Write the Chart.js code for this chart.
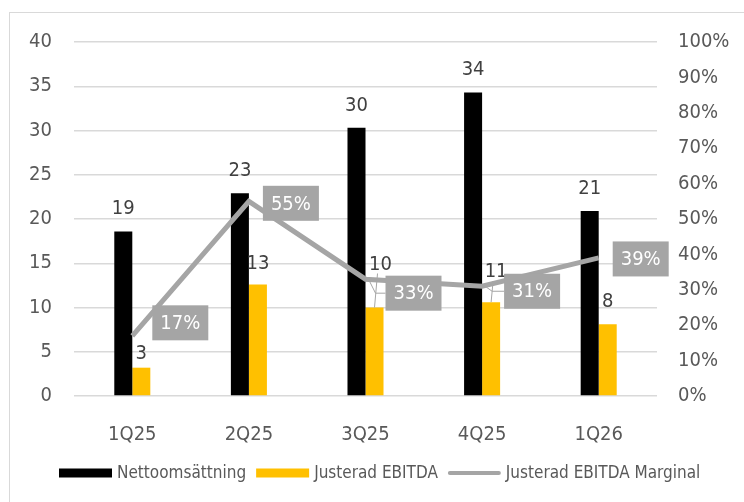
<!DOCTYPE html>
<html>
<head>
<meta charset="utf-8">
<script src="https://cdn.jsdelivr.net/npm/chart.js@4.4.0/dist/chart.umd.min.js"></script>
<style>
  html, body { margin: 0; padding: 0; background: #fff; }
  #wrap { position: relative; width: 744px; height: 502px; }
  #frame { position: absolute; left: 9px; top: 12px; width: 760px; height: 520px; border: 1px solid #d9d9d9; box-sizing: border-box; }
  canvas { position: absolute; left: 0; top: 0; }
</style>
</head>
<body>
<div id="wrap">
  <div id="frame"></div>
  <canvas id="chart" width="744" height="502"></canvas>
</div>
<script>
// Quarterly figures (MSEK) and margin
const QUARTERS = ['1Q25', '2Q25', '3Q25', '4Q25', '1Q26'];
const NET_SALES = [18.6, 22.9, 30.3, 34.3, 20.9];
const ADJ_EBITDA = [3.2, 12.6, 10.0, 10.6, 8.1];
const ADJ_MARGIN = [17, 55, 33, 31, 39];
const LEFT_TICKS = [0, 5, 10, 15, 20, 25, 30, 35, 40];
const RIGHT_TICKS = [0, 10, 20, 30, 40, 50, 60, 70, 80, 90, 100];

const FONT = '"DejaVu Sans Condensed", "DejaVu Sans", sans-serif';
const TXT = '#595959';
const GREY = '#a5a5a5';

// label placement tweaks (px), like the hand-moved labels in the original
const salesGap = [17, 17, 17, 17, 17];
const ebitdaGap = [9, 15, 38, 25, 17];
const ebitdaDx = [0, 0, 6, 5, 0];
const marginDx = [20, 14, 20, 22, 14];
const marginDy = [-13, 2, 14, 5, 1];

const labelsPlugin = {
  id: 'valueLabels',
  afterDatasetsDraw(chart) {
    const ctx = chart.ctx;
    ctx.save();
    ctx.font = '20px ' + FONT;
    ctx.textAlign = 'center';
    ctx.textBaseline = 'alphabetic';
    // bar labels
    const m0 = chart.getDatasetMeta(0), m1 = chart.getDatasetMeta(1);
    m0.data.forEach((b, i) => {
      ctx.fillStyle = '#404040';
      ctx.fillText(Math.round(NET_SALES[i]), b.x, b.y - salesGap[i]);
    });
    m1.data.forEach((b, i) => {
      const lx = b.x + ebitdaDx[i], ly = b.y - ebitdaGap[i];
      if (ebitdaGap[i] > 20) {
        ctx.strokeStyle = GREY; ctx.lineWidth = 1;
        ctx.beginPath(); ctx.moveTo(lx - 3, ly + 4); ctx.lineTo(b.x, b.y); ctx.stroke();
      }
      ctx.fillStyle = '#404040';
      ctx.fillText(Math.round(ADJ_EBITDA[i]), lx, ly);
    });
    // margin boxes
    const m2 = chart.getDatasetMeta(2);
    const bw = 56, bh = 35;
    m2.data.forEach((p, i) => {
      const bx = p.x + marginDx[i], cy = p.y + marginDy[i];
      if (marginDy[i] > 4) {
        ctx.strokeStyle = GREY; ctx.lineWidth = 1;
        ctx.beginPath(); ctx.moveTo(bx, cy); ctx.lineTo(p.x + 10, cy); ctx.lineTo(p.x + 3, p.y); ctx.stroke();
      }
      ctx.fillStyle = GREY;
      ctx.fillRect(bx, cy - bh / 2, bw, bh);
      ctx.fillStyle = '#ffffff';
      ctx.textBaseline = 'middle';
      ctx.fillText(ADJ_MARGIN[i] + '%', bx + bw / 2, cy + 1);
      ctx.textBaseline = 'alphabetic';
    });
    ctx.restore();
  }
};

const legendPlugin = {
  id: 'bottomLegend',
  afterDraw(chart) {
    const ctx = chart.ctx;
    const items = chart.data.datasets.map(ds => ({ text: ds.label, color: ds.type === 'line' ? ds.borderColor : ds.backgroundColor, line: ds.type === 'line' }));
    ctx.save();
    ctx.font = '17px ' + FONT;
    ctx.textBaseline = 'middle';
    let x = 59;
    const y = 473;
    items.forEach(it => {
      if (it.line) {
        ctx.strokeStyle = it.color; ctx.lineWidth = 4; ctx.lineCap = 'round';
        ctx.beginPath(); ctx.moveTo(x + 2, y); ctx.lineTo(x + 51, y); ctx.stroke();
      } else {
        ctx.fillStyle = it.color;
        ctx.fillRect(x, y - 4.5, 53, 9);
      }
      x += 58;
      ctx.fillStyle = TXT;
      ctx.fillText(it.text, x, y + 1);
      x += ctx.measureText(it.text).width + 10;
    });
    ctx.restore();
  }
};

new Chart(document.getElementById('chart'), {
  type: 'bar',
  data: {
    labels: QUARTERS,
    datasets: [
      { label: 'Nettoomsättning', data: NET_SALES, backgroundColor: '#000000', yAxisID: 'y', order: 2,
        categoryPercentage: 0.309, barPercentage: 1 },
      { label: 'Justerad EBITDA', data: ADJ_EBITDA, backgroundColor: '#ffc000', yAxisID: 'y', order: 2,
        categoryPercentage: 0.309, barPercentage: 1 },
      { type: 'line', label: 'Justerad EBITDA Marginal', data: ADJ_MARGIN, borderColor: GREY, backgroundColor: GREY,
        borderWidth: 5, pointRadius: 0, tension: 0, yAxisID: 'y1', order: 1, borderJoinStyle: 'miter' },
    ]
  },
  options: {
    responsive: false,
    animation: false,
    layout: { padding: { left: 10, right: 0, top: 42, bottom: 0 } },
    plugins: { legend: { display: false }, tooltip: { enabled: false } },
    scales: {
      x: {
        grid: { display: false },
        border: { display: false },
        ticks: { color: TXT, font: { family: FONT, size: 20 }, padding: 19 },
        afterFit(s) { s.height = 106; }
      },
      y: {
        position: 'left', min: 0, max: 40,
        afterBuildTicks(s) { s.ticks = LEFT_TICKS.map(v => ({ value: v })); },
        grid: { color: '#d9d9d9', lineWidth: 1.5, drawTicks: false },
        border: { display: false },
        ticks: { color: TXT, font: { family: FONT, size: 20 }, padding: 22 },
        afterFit(s) { s.width = 64; }
      },
      y1: {
        position: 'right', min: 0, max: 100,
        afterBuildTicks(s) { s.ticks = RIGHT_TICKS.map(v => ({ value: v })); },
        grid: { display: false, drawTicks: false },
        border: { display: false },
        ticks: { color: TXT, font: { family: FONT, size: 20 }, padding: 21, callback: v => v + '%' },
        afterFit(s) { s.width = 87; }
      }
    }
  },
  plugins: [labelsPlugin, legendPlugin]
});
</script>
</body>
</html>
